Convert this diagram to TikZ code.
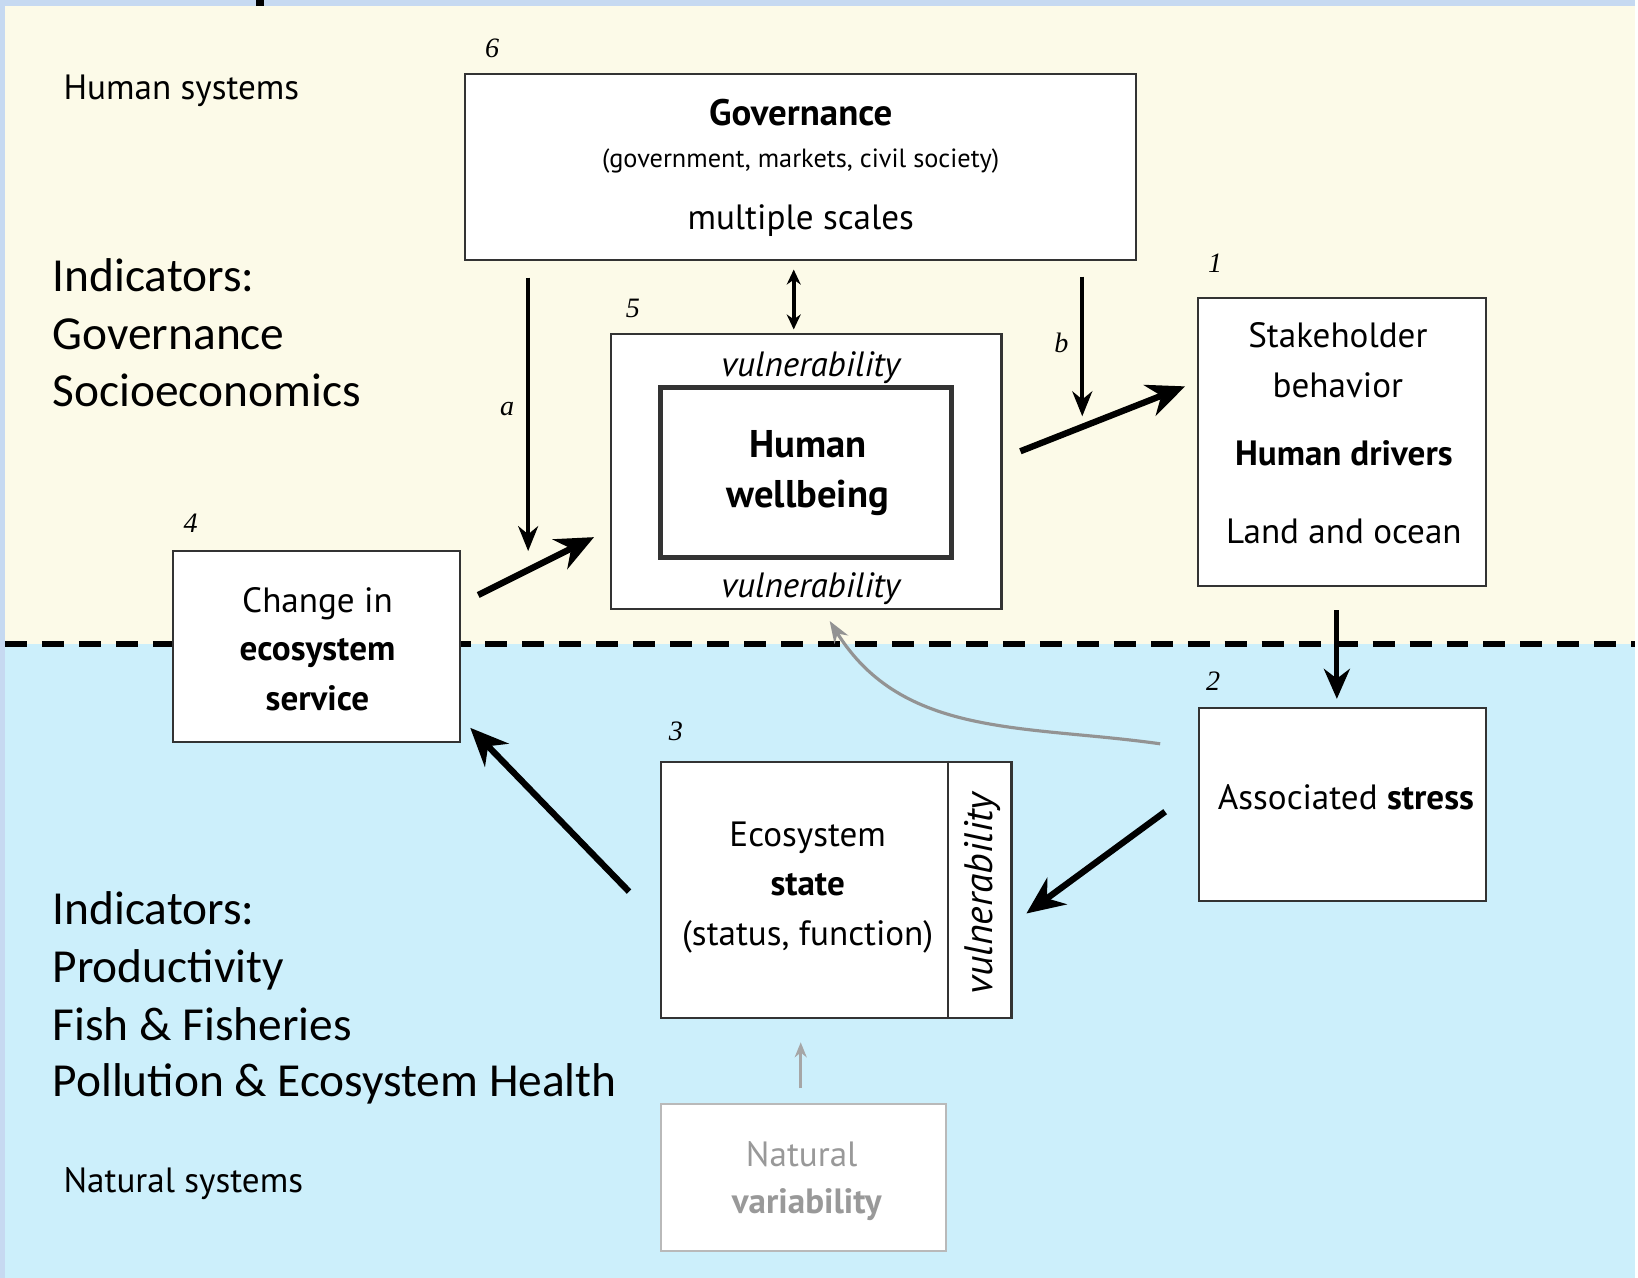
\documentclass[tikz,border=0pt]{standalone}
\usepackage{fontspec}
\setmainfont{PT Sans}
\newfontfamily\calibri{Carlito}
\newfontfamily\numfont{Liberation Serif}
\usetikzlibrary{arrows.meta}
\definecolor{cream}{HTML}{FCFAE8}
\definecolor{seablue}{HTML}{CCEFFB}
\definecolor{framecol}{HTML}{C6D9F1}

\begin{document}
\begin{tikzpicture}[x=0.01cm,y=-0.01cm,>={Stealth[length=0.25cm,width=0.2cm]},
  box/.style={draw=black!80,line width=0.6pt,fill=white,inner sep=0pt},
  txt/.style={anchor=base,inner sep=0pt,font=\fontsize{10}{12}\selectfont},
  num/.style={anchor=base,inner sep=0pt,font=\numfont\itshape\fontsize{8}{9}\selectfont},
  ind/.style={anchor=base west,inner sep=0pt,font=\calibri\fontsize{13.5}{16}\selectfont},
  light arrow/.style={->,line width=1.1pt},
  heavy arrow/.style={-{Stealth[length=0.38cm,width=0.33cm]},line width=1.8pt}]
% background and divider
\fill[framecol] (0,0) rectangle (1638,1280);
\fill[cream] (5,6) rectangle (1638,645);
\fill[seablue] (5,645) rectangle (1638,1280);
\fill[black] (256,0) rectangle (264,6);
\draw[line width=1.5pt,dash pattern=on 0.22cm off 0.15cm] (5,645) -- (1638,645);

\node[txt,anchor=base west] (human) at (63,100) {Human systems};
\node[txt,anchor=base west] (natural) at (63,1194) {Natural systems};

% indicators
\node[ind] (ind1) at (52,292) {Indicators:};
\node[ind] (ind2) at (52,350) {Governance};
\node[ind] (ind3) at (52,407) {Socioeconomics};
\node[ind] (ind4) at (52,926) {Indicators:};
\node[ind] (ind5) at (52,984) {Productivity};
\node[ind] (ind6) at (52,1042) {Fish \& Fisheries};
\node[ind] (ind7) at (52,1098) {Pollution \& Ecosystem Health};

% governance
\node[box,minimum width=6.72cm,minimum height=1.86cm] (gov) at (802,167) {};
\node[num] (n6) at (493,58) {6};
\node[txt,font=\fontsize{10.5}{12}\selectfont\bfseries] (govt) at (802,126) {Governance};
\node[txt,font=\fontsize{7.5}{9}\selectfont] (govs) at (802,168) {(government, markets, civil society)};
\node[txt] (govm) at (802,230) {multiple scales};

% human wellbeing
\node[box,minimum width=3.91cm,minimum height=2.75cm] (vul) at (807.5,472.5) {};
\node[box,line width=1.5pt,minimum width=2.91cm,minimum height=1.70cm] (hwb) at (807.5,473) {};
\node[num] (n5) at (634,318) {5};
\node[txt,font=\fontsize{10}{12}\selectfont\itshape] (vult) at (812,377) {vulnerability};
\node[txt,font=\fontsize{10}{12}\selectfont\itshape] (vulb) at (812,598) {vulnerability};
\node[txt,font=\fontsize{11}{12}\selectfont\bfseries] (hwb1) at (809,458) {Human};
\node[txt,font=\fontsize{11}{12}\selectfont\bfseries] (hwb2) at (809,508) {wellbeing};

% stakeholder
\node[box,minimum width=2.88cm,minimum height=2.88cm] (stake) at (1344,443) {};
\node[num] (n1) at (1217,273) {1};
\node[txt] (st1) at (1340,348) {Stakeholder};
\node[txt] (st2) at (1340,398) {behavior};
\node[txt,font=\fontsize{10}{12}\selectfont\bfseries] (st3) at (1346,466) {Human drivers};
\node[txt] (st4) at (1346,544) {Land and ocean};

% change in ecosystem service
\node[box,minimum width=2.88cm,minimum height=1.91cm] (change) at (317,647.5) {};
\node[num] (n4) at (191,533) {4};
\node[txt] (ch1) at (318,613) {Change in};
\node[txt,font=\fontsize{10}{12}\selectfont\bfseries] (ch2) at (318,662) {ecosystem};
\node[txt,font=\fontsize{10}{12}\selectfont\bfseries] (ch3) at (318,712) {service};

% associated stress
\node[box,minimum width=2.87cm,minimum height=1.93cm] (stress) at (1344.5,805.5) {};
\node[num] (n2) at (1215,692) {2};
\node[txt] (str) at (1348,811) {Associated \textbf{stress}};

% ecosystem state
\node[box,minimum width=3.51cm,minimum height=2.57cm] (eco) at (837.5,891.5) {};
\draw[black!80,line width=0.6pt] ([xshift=-0.65cm]eco.north east) -- ([xshift=-0.65cm]eco.south east);
\node[num] (n3) at (677,742) {3};
\node[txt] (ec1) at (809,848) {Ecosystem};
\node[txt,font=\fontsize{10}{12}\selectfont\bfseries] (ec2) at (809,897) {state};
\node[txt] (ec3) at (809,947) {(status, function)};
\node[inner sep=0pt,rotate=90,font=\fontsize{11.3}{12}\selectfont\itshape] (vulr) at (984,895) {vulnerability};

% natural variability
\node[box,draw=gray!55,minimum width=2.85cm,minimum height=1.47cm] (nat) at (804.5,1179.5) {};
\node[txt,text=gray!80] (na1) at (803,1168) {Natural};
\node[txt,text=gray!80,font=\fontsize{10}{12}\selectfont\bfseries] (na2) at (808,1215) {variability};

% arrow ends
\coordinate (a0) at (529,278);  \coordinate (a1) at (529,552);
\coordinate (b0) at (1084,277); \coordinate (b1) at (1084,417);
\coordinate (g0) at (795,270);  \coordinate (g1) at (795,330);
\coordinate (w0) at (1022,452); \coordinate (w1) at (1187,387);
\coordinate (c0) at (479,596);  \coordinate (c1) at (595,538);
\coordinate (s0) at (1339,611); \coordinate (s1) at (1339,700);
\coordinate (t0) at (1167,813); \coordinate (t1) at (1028,915);
\coordinate (e0) at (630,893);  \coordinate (e1) at (471,729);
\coordinate (r0) at (1162,745); \coordinate (r1) at (831,622);
\coordinate (v0) at (802,1090); \coordinate (v1) at (802,1044);

\draw[light arrow] (a0) -- (a1);
\node[num] (la) at (508,416) {a};
\draw[light arrow] (b0) -- (b1);
\node[num] (lb) at (1063,353) {b};
\draw[line width=1.1pt,{Stealth[length=0.15cm,width=0.14cm]}-{Stealth[length=0.15cm,width=0.14cm]}] (g0) -- (g1);
\draw[heavy arrow] (w0) -- (w1);
\draw[heavy arrow] (c0) -- (c1);
\draw[line width=1.4pt,-{Stealth[length=0.3cm,width=0.26cm]}] (s0) -- (s1);
\draw[heavy arrow] (t0) -- (t1);
\draw[heavy arrow] (e0) -- (e1);
\draw[gray!85,line width=0.9pt,-{Stealth[length=0.22cm,width=0.16cm]}] (r0) to[out=172,in=-58] (r1);
\draw[gray!70,line width=0.9pt,-{Stealth[length=0.15cm,width=0.12cm]}] (v0) -- (v1);

\end{tikzpicture}
\end{document}
